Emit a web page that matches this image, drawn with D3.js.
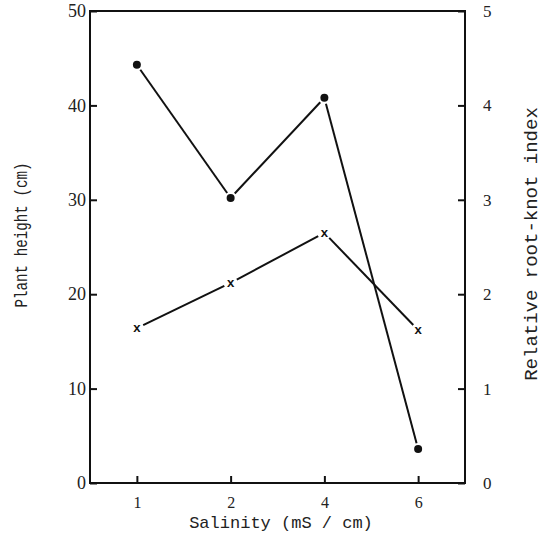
<!DOCTYPE html>
<html><head><meta charset="utf-8">
<script src="https://cdn.jsdelivr.net/npm/d3@7"></script>
<style>body{margin:0;background:#fff}</style>
</head><body>
<svg id="c" width="551" height="538"></svg>
<script>
const salinity = ["1", "2", "4", "6"];
const plantHeight = [44.3, 30.2, 40.8, 3.6];
const rootKnot = [1.64, 2.12, 2.65, 1.62];
const leftTicks = [0, 10, 20, 30, 40, 50];
const rightTicks = [0, 1, 2, 3, 4, 5];

const svg = d3.select("#c");
const L = 90, R = 465, T = 11, B = 483;
const x = d3.scalePoint().domain(salinity).range([L, R]).padding(0.5);
const yL = d3.scaleLinear().domain([0, 50]).range([B, T]);
const yR = d3.scaleLinear().domain([0, 5]).range([B, T]);

const mono = "'Liberation Mono', 'DejaVu Sans Mono', monospace";
const serif = "'Liberation Serif', 'DejaVu Serif', serif";

// frame
svg.append("rect").attr("x", L).attr("y", T).attr("width", R - L).attr("height", B - T)
  .attr("fill", "none").attr("stroke", "#111").attr("stroke-width", 2);

// left axis
const axL = svg.append("g").attr("transform", `translate(${L},0)`)
  .call(d3.axisLeft(yL).tickValues(leftTicks).tickSize(-7).tickPadding(4).tickFormat(d3.format("d")));
// right axis
const axR = svg.append("g").attr("transform", `translate(${R},0)`)
  .call(d3.axisRight(yR).tickValues(rightTicks).tickSize(-7).tickPadding(18).tickFormat(d3.format("d")));
// bottom axis
const axB = svg.append("g").attr("transform", `translate(0,${B})`)
  .call(d3.axisBottom(x).tickSize(-7).tickPadding(14));

[axL, axR, axB].forEach(a => {
  a.select(".domain").remove();
  a.selectAll(".tick line").attr("stroke", "#111").attr("stroke-width", 2);
  a.selectAll(".tick text").attr("fill", "#222").attr("font-family", serif).attr("font-size", 17);
});
axL.selectAll(".tick text").attr("font-size", 18);
axR.selectAll(".tick text").attr("font-size", 17);
axB.selectAll(".tick text").attr("font-size", 16);

// series lines with gaps near markers
function gappedSegments(vals, ys, gap) {
  const pts = vals.map((v, i) => [x(salinity[i]), ys(v)]);
  const segs = [];
  for (let i = 0; i < pts.length - 1; i++) {
    const [x0, y0] = pts[i], [x1, y1] = pts[i + 1];
    const d = Math.hypot(x1 - x0, y1 - y0);
    const ux = (x1 - x0) / d, uy = (y1 - y0) / d;
    segs.push([x0 + ux * gap, y0 + uy * gap, x1 - ux * gap, y1 - uy * gap]);
  }
  return segs;
}
svg.append("g").selectAll("line").data(gappedSegments(plantHeight, yL, 6)).join("line")
  .attr("x1", d => d[0]).attr("y1", d => d[1]).attr("x2", d => d[2]).attr("y2", d => d[3])
  .attr("stroke", "#111").attr("stroke-width", 2);
svg.append("g").selectAll("line").data(gappedSegments(rootKnot, yR, 7)).join("line")
  .attr("x1", d => d[0]).attr("y1", d => d[1]).attr("x2", d => d[2]).attr("y2", d => d[3])
  .attr("stroke", "#111").attr("stroke-width", 2);

// markers
svg.append("g").selectAll("circle").data(plantHeight).join("circle")
  .attr("cx", (d, i) => x(salinity[i])).attr("cy", d => yL(d)).attr("r", 4)
  .attr("fill", "#111");
svg.append("g").selectAll("text").data(rootKnot).join("text")
  .attr("x", (d, i) => x(salinity[i])).attr("y", d => yR(d)).attr("dy", "0.32em")
  .attr("text-anchor", "middle").attr("font-family", mono).attr("font-weight", "bold")
  .attr("font-size", 13).attr("fill", "#111").text("x");

// axis titles
svg.append("text").attr("x", 281).attr("y", 528).attr("text-anchor", "middle")
  .attr("font-family", mono).attr("font-size", 17).attr("fill", "#222")
  .text("Salinity (mS / cm)");
svg.append("text").attr("transform", "translate(27,235) rotate(-90)").attr("text-anchor", "middle")
  .attr("font-family", mono).attr("font-size", 18).attr("fill", "#222")
  .attr("textLength", 145).attr("lengthAdjust", "spacingAndGlyphs")
  .text("Plant height (cm)");
svg.append("text").attr("transform", "translate(537,244) rotate(-90)").attr("text-anchor", "middle")
  .attr("font-family", mono).attr("font-size", 19).attr("fill", "#222")
  .text("Relative root-knot index");
</script>
</body></html>
